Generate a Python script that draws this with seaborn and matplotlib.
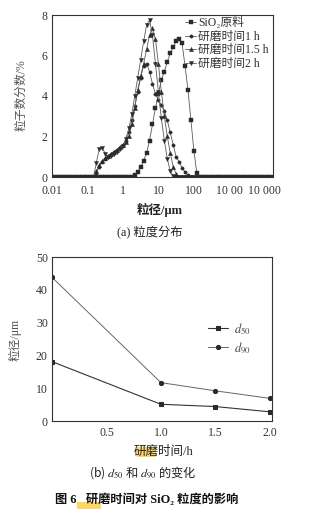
import matplotlib
matplotlib.use("Agg")
import matplotlib.pyplot as plt
import matplotlib.ticker as mticker
from matplotlib.patches import Rectangle
import seaborn as sns

# ---- particle size distribution (panel a) ----
size_um = [
    0.0100, 0.0121, 0.0147, 0.0178, 0.0215, 0.0261, 0.0316, 0.0383, 0.0464, 0.0562, 0.0681, 0.0825,
    0.100, 0.121, 0.147, 0.178, 0.215, 0.261, 0.316, 0.383, 0.464, 0.562, 0.681, 0.825,
    1.00, 1.21, 1.47, 1.78, 2.15, 2.61, 3.16, 3.83, 4.64, 5.62, 6.81, 8.25,
    10.0, 12.1, 14.7, 17.8, 21.5, 26.1, 31.6, 38.3, 46.4, 56.2, 68.1, 82.5,
    100, 121, 147, 178, 215, 261, 316, 383, 464, 562, 681, 825,
    1000, 1210, 1470, 1780, 2150, 2610, 3160, 3830, 4640, 5620, 6810, 8250,
    10000, 12100, 14700,
]

raw_sio2 = [
    0, 0, 0, 0, 0, 0, 0, 0, 0, 0, 0, 0,
    0, 0, 0, 0, 0, 0, 0, 0, 0, 0, 0, 0,
    0, 0, 0, 0, 0.1, 0.25, 0.5, 0.8, 1.2, 1.8, 2.6, 3.4,
    4.1, 4.8, 5.2, 5.7, 6.1, 6.4, 6.7, 6.8, 6.6, 5.5, 4.3, 2.8,
    1.3, 0.2, 0, 0, 0, 0, 0, 0, 0, 0, 0, 0,
    0, 0, 0, 0, 0, 0, 0, 0, 0, 0, 0, 0,
    0, 0, 0,
]

milled_1h = [
    0, 0, 0, 0, 0, 0, 0, 0, 0, 0, 0, 0,
    0, 0, 0, 0.2, 0.5, 0.75, 0.9, 1.0, 1.15, 1.25, 1.35, 1.45,
    1.6, 1.8, 2.2, 2.8, 3.5, 4.2, 4.9, 5.5, 5.6, 5.2, 4.6, 4.1,
    3.8, 3.55, 3.25, 2.8, 2.2, 1.6, 1.0, 0.75, 0.45, 0.25, 0.1, 0,
    0, 0, 0, 0, 0, 0, 0, 0, 0, 0, 0, 0,
    0, 0, 0, 0, 0, 0, 0, 0, 0, 0, 0, 0,
    0, 0, 0,
]

milled_15h = [
    0, 0, 0, 0, 0, 0, 0, 0, 0, 0, 0, 0,
    0, 0, 0, 0.3, 0.6, 0.8, 0.95, 1.05, 1.15, 1.25, 1.35, 1.5,
    1.6, 1.75, 2.0, 2.6, 3.4, 4.3, 5.0, 5.6, 6.3, 7.0, 7.35, 6.8,
    5.6, 4.2, 3.0, 2.0, 1.2, 0.5, 0.15, 0, 0, 0, 0, 0,
    0, 0, 0, 0, 0, 0, 0, 0, 0, 0, 0, 0,
    0, 0, 0, 0, 0, 0, 0, 0, 0, 0, 0, 0,
    0, 0, 0,
]

milled_2h = [
    0, 0, 0, 0, 0, 0, 0, 0, 0, 0, 0, 0,
    0, 0, 0, 0.7, 1.4, 1.45, 1.15, 1.0, 1.05, 1.15, 1.25, 1.4,
    1.55, 1.9, 2.4, 3.1, 4.0, 4.9, 5.8, 6.7, 7.5, 7.75, 7.0, 5.6,
    4.2, 2.9, 1.8, 0.9, 0.3, 0.05, 0, 0, 0, 0, 0, 0,
    0, 0, 0, 0, 0, 0, 0, 0, 0, 0, 0, 0,
    0, 0, 0, 0, 0, 0, 0, 0, 0, 0, 0, 0,
    0, 0, 0,
]

series_labels = ["SiO₂原料", "研磨时间1 h", "研磨时间1.5 h", "研磨时间2 h"]
x_tick_values = [0.01, 0.1, 1, 10, 100, 1000, 10000]
x_tick_labels = ["0.01", "0.1", "1", "10", "100", "10 00", "10 000"]

# ---- d50 / d90 versus milling time (panel b) ----
milling_hours = [0, 1.0, 1.5, 2.0]
d50_um = [18.1, 5.1, 4.4, 2.8]
d90_um = [43.8, 11.7, 9.2, 6.9]

sns.set_theme(style="white")
plt.rcParams["font.family"] = ["Liberation Serif", "Noto Sans CJK SC", "DejaVu Sans"]
plt.rcParams["mathtext.fontset"] = "stix"
plt.rcParams["axes.unicode_minus"] = False

W, H = 327, 511
fig = plt.figure(figsize=(W / 100, H / 100), dpi=100)
fig.patch.set_facecolor("white")

ink = "#2a2a2a"
line_grey = "#5a5a5a"
cjk = "Noto Sans CJK SC"


def frame(ax, xpad=3):
    for s in ax.spines.values():
        s.set_visible(True)
        s.set_linewidth(0.8)
        s.set_color("#333333")
    ax.tick_params(which="major", direction="in", length=3, width=0.6,
                   labelsize=8.5, colors="#333333", pad=3)
    ax.tick_params(axis="x", which="major", pad=xpad)
    ax.tick_params(which="minor", direction="in", length=1.6, width=0.5, colors="#333333")


# panel a
ax1 = fig.add_axes([52 / W, 1 - 177 / H, 221 / W, 162 / H])
ax1.set_xscale("log")
styles = [("s", 2.6), ("o", 2.4), ("^", 3.0), ("v", 3.0)]
for vals, lab, (mk, ms) in zip([raw_sio2, milled_1h, milled_15h, milled_2h], series_labels, styles):
    sns.lineplot(x=size_um, y=vals, ax=ax1, color=line_grey, linewidth=0.6,
                 marker=mk, markersize=ms, markerfacecolor=ink, markeredgecolor=ink,
                 markeredgewidth=0.3, label=lab, errorbar=None, sort=True)
ax1.set_xlim(0.01, 17000)
ax1.set_ylim(0, 8)
ax1.xaxis.set_major_locator(mticker.FixedLocator(x_tick_values))
ax1.xaxis.set_major_formatter(mticker.FixedFormatter(x_tick_labels))
ax1.xaxis.set_minor_locator(mticker.LogLocator(base=10, subs=range(2, 10), numticks=20))
ax1.xaxis.set_minor_formatter(mticker.NullFormatter())
ax1.set_yticks([0, 2, 4, 6, 8])
ax1.set_xlabel("")
ax1.set_ylabel("")
frame(ax1, xpad=6)
leg = ax1.legend(loc="upper left", bbox_to_anchor=(0.6, 0.985), frameon=False,
                 fontsize=8.5, handlelength=1.0, handletextpad=0.15,
                 labelspacing=0.12, borderpad=0.0, borderaxespad=0.0)
for t in leg.get_texts():
    t.set_color("#333333")

fig.text(21 / W, 1 - 95 / H, "粒子数分数/%", rotation=90, ha="center", va="center",
         fontsize=8.5, color="#555555")
fig.text(160 / W, 1 - 210 / H, "粒径/μm", ha="center", va="center",
         fontsize=9, fontweight="bold", color="#222222")
fig.text(150 / W, 1 - 233 / H, "(a) 粒度分布", ha="center", va="center",
         fontsize=8.8, color="#222222")

# panel b
ax2 = fig.add_axes([52 / W, 1 - 421 / H, 220 / W, 164 / H])
sns.lineplot(x=milling_hours, y=d50_um, ax=ax2, color="#333333", linewidth=0.8,
             marker="s", markersize=3.0, markerfacecolor=ink, markeredgecolor=ink,
             label="$d_{50}$", errorbar=None)
sns.lineplot(x=milling_hours, y=d90_um, ax=ax2, color="#666666", linewidth=0.7,
             marker="o", markersize=3.0, markerfacecolor=ink, markeredgecolor=ink,
             label="$d_{90}$", errorbar=None)
ax2.set_xlim(0, 2.02)
ax2.set_ylim(0, 50)
ax2.set_xticks([0.5, 1.0, 1.5, 2.0])
ax2.set_xticklabels(["0.5", "1.0", "1.5", "2.0"])
ax2.set_yticks([0, 10, 20, 30, 40, 50])
ax2.set_xlabel("")
ax2.set_ylabel("")
frame(ax2, xpad=4)
leg2 = ax2.legend(loc="center left", bbox_to_anchor=(0.68, 0.505), frameon=False,
                  fontsize=9, handlelength=1.6, handletextpad=0.5,
                  labelspacing=0.3, borderpad=0.0)
for t in leg2.get_texts():
    t.set_color("#444444")

fig.text(15 / W, 1 - 340 / H, "粒径/μm", rotation=90, ha="center", va="center",
         fontsize=8.5, color="#555555")

# marker-pen highlights on the printed page
fig.patches.append(Rectangle((137 / W, 1 - 457 / H), 19 / W, 10 / H,
                             transform=fig.transFigure, facecolor="#ffcf4a",
                             edgecolor="none", alpha=0.85, zorder=0))
fig.patches.append(Rectangle((77 / W, 1 - 509 / H), 24 / W, 7 / H,
                             transform=fig.transFigure, facecolor="#ffcf4a",
                             edgecolor="none", alpha=0.85, zorder=0))

fig.text(163 / W, 1 - 452 / H, "研磨时间/h", ha="center", va="center",
         fontsize=9, color="#222222", zorder=2)
fig.text(143 / W, 1 - 473 / H, "(b) $d_{50}$ 和 $d_{90}$ 的变化", ha="center", va="center",
         fontsize=8.8, color="#222222", family=cjk)
fig.text(147 / W, 1 - 500 / H, "图 6   研磨时间对 SiO₂ 粒度的影响", ha="center",
         va="center", fontsize=8.8, fontweight="bold", color="#111111", zorder=2)

fig.savefig("out.png", dpi=100, facecolor="white")
